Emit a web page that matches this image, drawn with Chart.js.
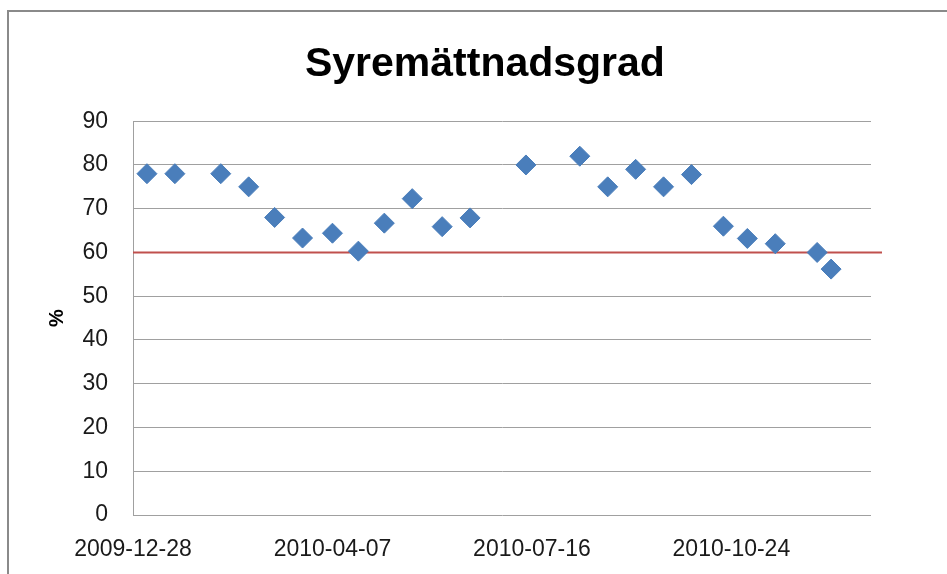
<!DOCTYPE html>
<html>
<head>
<meta charset="utf-8">
<script src="https://cdn.jsdelivr.net/npm/chart.js@4/dist/chart.umd.min.js"></script>
<style>
  html, body { margin: 0; padding: 0; background: #fff; }
</style>
</head>
<body>
<canvas id="chart" width="947" height="574"></canvas>
<script>
// Axis start and the length of the date axis in days
const startDate = '2009-12-28';
const axisDays = 370;

// Sample dates and oxygen saturation (%)
const sampleDates = [
    '2010-01-04', '2010-01-18', '2010-02-10', '2010-02-24', '2010-03-09',
    '2010-03-23', '2010-04-07', '2010-04-20', '2010-05-03', '2010-05-17',
    '2010-06-01', '2010-06-15', '2010-07-13', '2010-08-09', '2010-08-23',
    '2010-09-06', '2010-09-20', '2010-10-04', '2010-10-20', '2010-11-01',
    '2010-11-15', '2010-12-06', '2010-12-13'
];
const oxygenValues = [
    78, 78, 78, 75, 68,
    63.3, 64.4, 60.3, 66.7, 72.3,
    65.9, 67.9, 80, 82, 75,
    79, 75, 77.8, 66, 63.2,
    62, 60, 56.2
];

// Tick labels on the date axis
const tickDates = ['2009-12-28', '2010-04-07', '2010-07-16', '2010-10-24'];

// Limit line
const limitValue = 60;

const DAY = 86400000;
function toDay(s) {
    const a = s.split('-').map(Number);
    const b = startDate.split('-').map(Number);
    return Math.round((Date.UTC(a[0], a[1] - 1, a[2]) - Date.UTC(b[0], b[1] - 1, b[2])) / DAY);
}
function dayToLabel(d) {
    const b = startDate.split('-').map(Number);
    return new Date(Date.UTC(b[0], b[1] - 1, b[2]) + d * DAY).toISOString().slice(0, 10);
}

const points = sampleDates.map((d, i) => ({ x: toDay(d), y: oxygenValues[i] }));

// White background and the grey frame of the chart object
const framePlugin = {
    id: 'frame',
    beforeDraw(chart) {
        const ctx = chart.ctx;
        ctx.save();
        ctx.fillStyle = '#ffffff';
        ctx.fillRect(0, 0, chart.width, chart.height);
        ctx.strokeStyle = '#8a8a8a';
        ctx.lineWidth = 2;
        ctx.strokeRect(8, 11, chart.width + 20, chart.height + 20);
        ctx.restore();
    }
};

// Red limit line at 60 %
const limitPlugin = {
    id: 'limit',
    beforeDatasetsDraw(chart) {
        const ctx = chart.ctx;
        const y = chart.scales.y.getPixelForValue(limitValue);
        ctx.save();
        ctx.strokeStyle = '#c0504d';
        ctx.lineWidth = 2;
        ctx.beginPath();
        ctx.moveTo(chart.chartArea.left, y);
        ctx.lineTo(chart.chartArea.right + 11, y);
        ctx.stroke();
        ctx.restore();
    }
};

const ctx = document.getElementById('chart').getContext('2d');
new Chart(ctx, {
    type: 'scatter',
    data: {
        datasets: [{
            label: 'Syremättnadsgrad',
            data: points,
            pointStyle: 'rectRot',
            pointRadius: 10,
            pointHoverRadius: 10,
            backgroundColor: '#4a7ebb',
            borderColor: '#4a7ebb',
            borderWidth: 1
        }]
    },
    options: {
        responsive: false,
        animation: false,
        layout: {
            padding: { left: 30, right: 76, top: 0, bottom: 0 }
        },
        plugins: {
            legend: { display: false },
            tooltip: { enabled: false },
            title: {
                display: true,
                fullSize: false,
                // trailing spaces move the centred title a bit left, as in the original
                text: 'Syremättnadsgrad   ',
                color: '#000000',
                font: { family: 'Liberation Sans', size: 41, weight: 'bold' },
                padding: { top: 40, bottom: 32 }
            }
        },
        scales: {
            x: {
                type: 'linear',
                min: 0,
                max: axisDays,
                afterBuildTicks: function(scale) {
                    scale.ticks = tickDates.map(d => ({ value: toDay(d) }));
                },
                afterFit: function(scale) {
                    scale.height = 59;
                },
                grid: { display: false },
                border: { display: false },
                ticks: {
                    padding: 13,
                    maxRotation: 0,
                    autoSkip: false,
                    color: '#1a1a1a',
                    font: { family: 'Liberation Sans', size: 23 },
                    callback: function(value) {
                        return dayToLabel(value);
                    }
                }
            },
            y: {
                min: 0,
                max: 90,
                afterFit: function(scale) {
                    scale.width = 103;
                },
                grid: { color: '#a0a0a0', lineWidth: 1, drawTicks: false },
                border: { color: '#a0a0a0', width: 1 },
                title: {
                    display: true,
                    text: '%',
                    color: '#000000',
                    font: { family: 'Liberation Sans', size: 20, weight: 'bold' },
                    padding: { top: 15, bottom: 0 }
                },
                ticks: {
                    stepSize: 10,
                    padding: 25,
                    color: '#1a1a1a',
                    font: { family: 'Liberation Sans', size: 23 }
                }
            }
        }
    },
    plugins: [framePlugin, limitPlugin]
});
</script>
</body>
</html>
